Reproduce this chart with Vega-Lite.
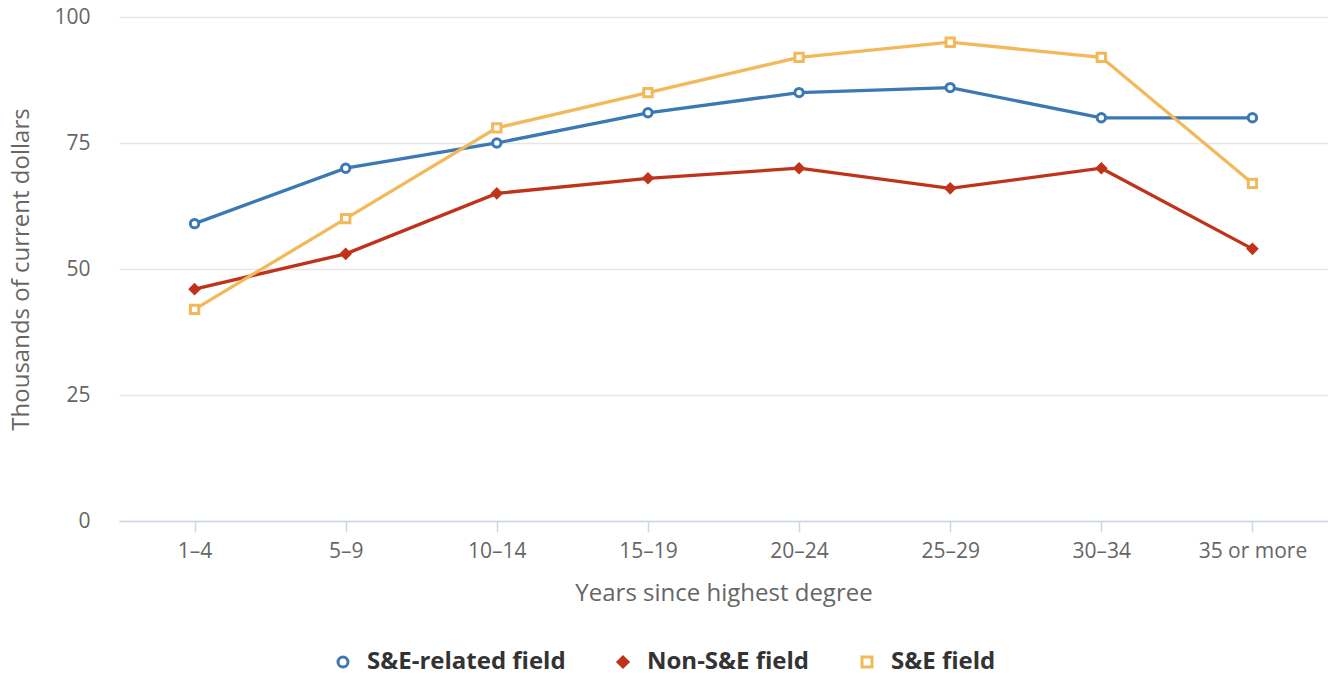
{
  "$schema": "https://vega.github.io/schema/vega-lite/v6.json",
  "width": 1209,
  "height": 504,
  "autosize": {"type": "none"},
  "padding": {"left": 119, "top": 17, "right": 0, "bottom": 158},
  "background": "white",
  "config": {
    "font": "Open Sans",
    "view": {"stroke": null}
  },
  "data": {
    "values": [
      {"years": "1–4", "series": "S&E-related field", "value": 59},
      {"years": "5–9", "series": "S&E-related field", "value": 70},
      {"years": "10–14", "series": "S&E-related field", "value": 75},
      {"years": "15–19", "series": "S&E-related field", "value": 81},
      {"years": "20–24", "series": "S&E-related field", "value": 85},
      {"years": "25–29", "series": "S&E-related field", "value": 86},
      {"years": "30–34", "series": "S&E-related field", "value": 80},
      {"years": "35 or more", "series": "S&E-related field", "value": 80},
      {"years": "1–4", "series": "Non-S&E field", "value": 46},
      {"years": "5–9", "series": "Non-S&E field", "value": 53},
      {"years": "10–14", "series": "Non-S&E field", "value": 65},
      {"years": "15–19", "series": "Non-S&E field", "value": 68},
      {"years": "20–24", "series": "Non-S&E field", "value": 70},
      {"years": "25–29", "series": "Non-S&E field", "value": 66},
      {"years": "30–34", "series": "Non-S&E field", "value": 70},
      {"years": "35 or more", "series": "Non-S&E field", "value": 54},
      {"years": "1–4", "series": "S&E field", "value": 42},
      {"years": "5–9", "series": "S&E field", "value": 60},
      {"years": "10–14", "series": "S&E field", "value": 78},
      {"years": "15–19", "series": "S&E field", "value": 85},
      {"years": "20–24", "series": "S&E field", "value": 92},
      {"years": "25–29", "series": "S&E field", "value": 95},
      {"years": "30–34", "series": "S&E field", "value": 92},
      {"years": "35 or more", "series": "S&E field", "value": 67}
    ]
  },
  "encoding": {
    "x": {
      "field": "years",
      "type": "ordinal",
      "sort": null,
      "scale": {"type": "point", "padding": 0.5},
      "axis": {
        "title": "Years since highest degree",
        "titleFont": "Open Sans",
        "titleFontSize": 24,
        "titleFontWeight": "normal",
        "titleColor": "#666666",
        "titlePadding": 20,
        "labelFontSize": 21,
        "labelColor": "#666666",
        "labelPadding": 8,
        "labelAngle": 0,
        "domainColor": "#ccd6eb",
        "domainWidth": 1.5,
        "tickColor": "#ccd6eb",
        "tickWidth": 1.5,
        "tickSize": 11,
        "grid": false
      }
    },
    "y": {
      "field": "value",
      "type": "quantitative",
      "scale": {"domain": [0, 100], "nice": false},
      "axis": {
        "title": "Thousands of current dollars",
        "titleFontSize": 24,
        "titleFontWeight": "normal",
        "titleColor": "#666666",
        "titlePadding": 20,
        "values": [0, 25, 50, 75, 100],
        "labelFontSize": 21,
        "labelColor": "#666666",
        "labelPadding": 29,
        "domain": false,
        "ticks": false,
        "grid": true,
        "gridColor": "#e6e6e6",
        "gridWidth": 1.5
      }
    },
    "color": {
      "field": "series",
      "type": "nominal",
      "sort": ["S&E-related field", "Non-S&E field", "S&E field"],
      "scale": {
        "domain": ["S&E-related field", "Non-S&E field", "S&E field"],
        "range": ["#3b78b4", "#c0331b", "#f1b95a"]
      },
      "legend": {
        "title": null,
        "orient": "none",
        "legendX": 212,
        "legendY": 633,
        "padding": 0,
        "direction": "horizontal",
        "labelFontSize": 24,
        "labelFontWeight": "bold",
        "labelColor": "#333333",
        "labelLimit": 500,
        "symbolSize": 100,
        "symbolStrokeWidth": 3,
        "columnPadding": 45,
        "labelOffset": 12
      }
    }
  },
  "layer": [
    {
      "mark": {"type": "line", "strokeWidth": 3.3},
      "encoding": {"detail": {"field": "series"}}
    },
    {
      "mark": {"type": "point", "filled": false, "strokeWidth": 3, "size": 70, "opacity": 1},
      "encoding": {
        "shape": {
          "field": "series",
          "type": "nominal",
          "sort": ["S&E-related field", "Non-S&E field", "S&E field"],
          "scale": {
            "domain": ["S&E-related field", "Non-S&E field", "S&E field"],
            "range": ["circle", "diamond", "square"]
          }
        },
        "fill": {
          "field": "series",
          "type": "nominal",
          "sort": ["S&E-related field", "Non-S&E field", "S&E field"],
          "scale": {
            "domain": ["S&E-related field", "Non-S&E field", "S&E field"],
            "range": ["#ffffff", "#c0331b", "#ffffff"]
          }
        }
      }
    }
  ]
}
